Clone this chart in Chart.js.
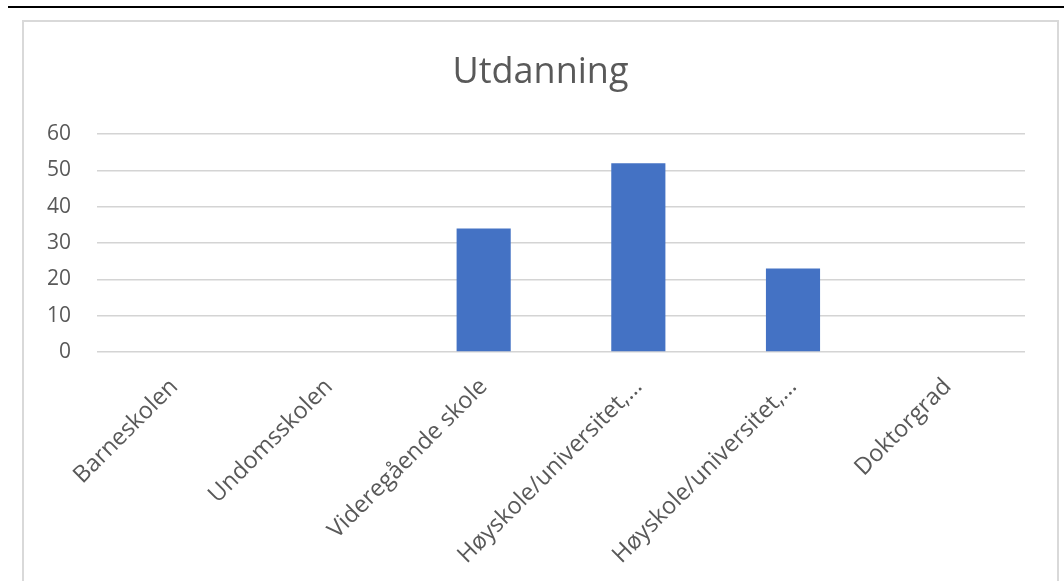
<!DOCTYPE html>
<html>
<head>
<meta charset="utf-8">
<script src="https://cdn.jsdelivr.net/npm/chart.js@4"></script>
<style>
  html, body { margin: 0; padding: 0; background: #fff; overflow: hidden; }
  #topline { position: absolute; left: 8px; top: 6px; width: 1056px; height: 2px; background: #000; }
  #frame { position: absolute; left: 22px; top: 20px; width: 1033px; height: 600px;
           border: 2px solid #d9d9d9; border-bottom: none; }
  #wrap { position: absolute; left: 0; top: 0; width: 1064px; height: 581px; }
</style>
</head>
<body>
<div id="topline"></div>
<div id="frame"></div>
<div id="wrap"><canvas id="utdanningChart" width="1064" height="581"></canvas></div>
<script>
// categories (long Excel labels are shown cut off)
var categories = ['Barneskolen', 'Undomsskolen', 'Videregående skole',
                  'Høyskole/universitet,…', 'Høyskole/universitet,…', 'Doktorgrad'];
var values = [0, 0, 34, 52, 23, 0];
var yTicks = [0, 10, 20, 30, 40, 50, 60];

var textColor = '#595959';
var fontFamily = '"Open Sans", "Noto Sans", sans-serif';

// centre the title on the frame instead of on the canvas
var titleShift = {
    id: 'titleShift',
    afterLayout: function (chart) {
        chart.titleBlock.left += 13;
        chart.titleBlock.right += 13;
    }
};

var ctx = document.getElementById('utdanningChart').getContext('2d');
var chart = new Chart(ctx, {
    type: 'bar',
    data: {
        labels: categories,
        datasets: [{
            label: 'Utdanning',
            data: values,
            backgroundColor: '#4472C4',
            borderWidth: 0,
            barPercentage: 0.35,
            categoryPercentage: 1
        }]
    },
    plugins: [titleShift],
    options: {
        responsive: false,
        animation: false,
        layout: {
            padding: { left: 30, right: 39, top: 20, bottom: 0 }
        },
        plugins: {
            legend: { display: false },
            tooltip: { enabled: false },
            title: {
                display: true,
                text: 'Utdanning',
                color: textColor,
                font: { family: fontFamily, size: 36, weight: 'normal', lineHeight: 1.2 },
                padding: { top: 31, bottom: 40 }
            }
        },
        scales: {
            x: {
                grid: { display: false },
                border: { display: false },
                ticks: {
                    color: textColor,
                    font: { family: fontFamily, size: 23.5 },
                    minRotation: 45,
                    maxRotation: 45,
                    autoSkip: false,
                    padding: 13
                },
                afterFit: function (axis) { axis.height = 229; }
            },
            y: {
                min: yTicks[0],
                max: yTicks[yTicks.length - 1],
                border: { display: false },
                grid: { color: '#d4d4d4', lineWidth: 1.5, drawTicks: false },
                ticks: {
                    stepSize: yTicks[1] - yTicks[0],
                    color: textColor,
                    font: { family: fontFamily, size: 21 },
                    padding: 26
                },
                afterFit: function (axis) { axis.width = 67; }
            }
        }
    }
});
</script>
</body>
</html>
